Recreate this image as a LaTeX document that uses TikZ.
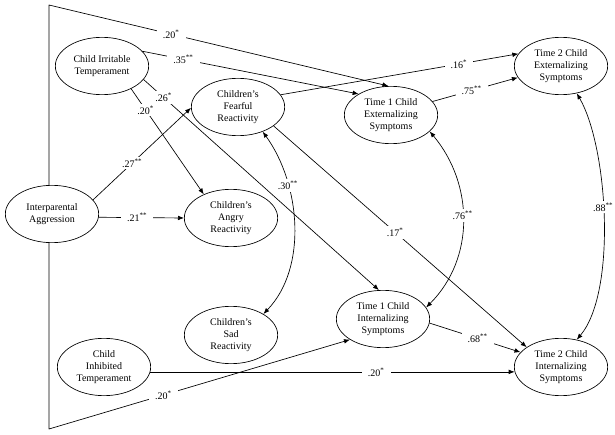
\documentclass[tikz,border=0pt]{standalone}
\usepackage{fontspec}
\setmainfont{Liberation Serif}
\usetikzlibrary{arrows.meta,shapes.geometric}
\tikzset{
  var/.style={ellipse, draw, fill=white, line width=0.5pt, minimum width=70pt, minimum height=43pt, inner sep=0pt, align=center, font=\fontsize{7.5}{9}\selectfont},
  arr/.style={line width=0.5pt, -{Latex[length=4.5pt,width=3.5pt]}},
  corr/.style={line width=0.5pt, {Latex[length=4.5pt,width=3.5pt]}-{Latex[length=4.5pt,width=3.5pt]}},
  coef/.style={fill=white, inner xsep=4.5pt, inner ysep=1.5pt, font=\fontsize{7.5}{9}\selectfont},
}
\newcommand{\sig}{\textsuperscript{*}}
\newcommand{\ssig}{\textsuperscript{**}}
\begin{document}
\begin{tikzpicture}[x=0.75pt, y=-0.75pt, line cap=round, line join=round]
  \useasboundingbox (0,0) rectangle (615,435);
  \node[var] (irr) at (102,66) {Child Irritable\\Temperament};
  \node[var] (ia) at (52,214) {Interparental\\Aggression};
  \node[var] (fear) at (238,107) {Children's\\Fearful\\Reactivity};
  \node[var] (angry) at (231,218) {Children's\\Angry\\Reactivity};
  \node[var] (sad) at (231,335) {Children's\\Sad\\Reactivity};
  \node[var] (inh) at (104,367) {Child\\Inhibited\\Temperament};
  \node[var] (ext1) at (391,115) {Time 1 Child\\Externalizing\\Symptoms};
  \node[var] (ext2) at (561,66) {Time 2 Child\\Externalizing\\Symptoms};
  \node[var] (int1) at (383,319) {Time 1 Child\\Internalizing\\Symptoms};
  \node[var] (int2) at (561,367) {Time 2 Child\\Internalizing\\Symptoms};
  \coordinate (topc) at (49,5);
  \coordinate (botc) at (49,429);
  \draw[arr] (topc |- ia.north) -- (topc) -- node[coef, pos=0.36] {.20\sig} (ext1.95);
  \draw[arr] (botc |- ia.south) -- (botc) -- node[coef, pos=0.38] {.20\sig} (int1.212);
  \foreach \s/\e/\t/\p in {irr.20/ext1.147/{.35\ssig}/0.19, irr.-38/angry.139/{.20\sig}/0.2,
      irr.-18/int1.98/{.26\sig}/0.085, ia.19/fear.181/{.27\ssig}/0.4, ia.-4/angry.west/{.21\ssig}/0.45,
      fear.16/ext2.164/{.16\sig}/0.75, ext1.18/ext2.195/{.75\ssig}/0.46, fear.-28/int2.150/{.17\sig}/0.48,
      int1.-5/int2.160/{.68\ssig}/0.53, inh.-6/int2.186/{.20\sig}/0.62}
    \draw[arr] (\s) -- node[coef, pos=\p] {\t} (\e);
  \draw[corr] (fear.-45) to[out=-54, in=46, looseness=0.9] node[coef, pos=0.3] {.30\ssig} (sad.33);
  \draw[corr] (ext1.-23) to[out=-50, in=45] node[coef, pos=0.47] {.76\ssig} (int1.15);
  \draw[corr] (ext2.-60) to[out=-60, in=50, looseness=0.65] node[coef, pos=0.46] {.88\ssig} (int2.60);
\end{tikzpicture}
\end{document}
